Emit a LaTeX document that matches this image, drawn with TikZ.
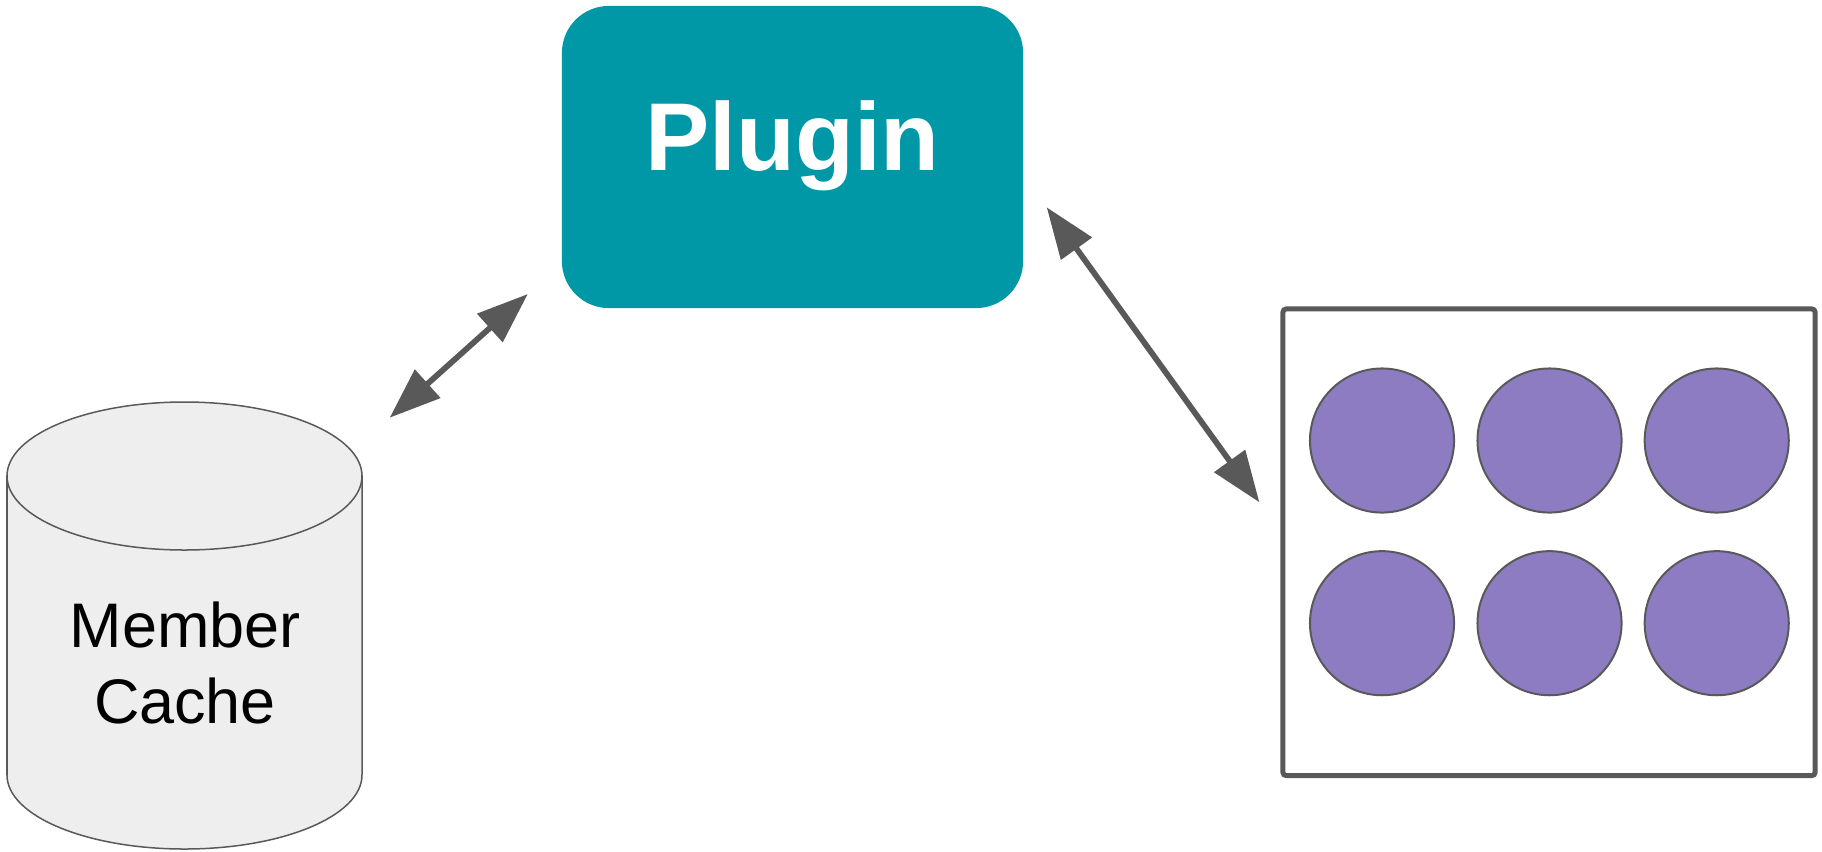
\documentclass[tikz,border=0pt]{standalone}
\usepackage{fontspec}
\setmainfont{Liberation Sans}
\usetikzlibrary{arrows.meta}

\definecolor{pluginteal}{HTML}{0097A7}
\definecolor{podpurple}{HTML}{8E7CC3}
\definecolor{edgegray}{HTML}{595959}
\definecolor{cachegray}{HTML}{EEEEEE}

\tikzset{
    link/.style={edgegray, line width=0.058cm, {Triangle[length=0.51cm, width=0.37cm]}-{Triangle[length=0.51cm, width=0.37cm]}},
    member/.style={circle, draw=edgegray, line width=0.02cm, fill=podpurple, minimum size=1.44cm, inner sep=0pt},
    cyl/.style={fill=cachegray, draw=edgegray, line width=0.015cm},
}

\begin{document}
\begin{tikzpicture}[x=0.01cm, y=-0.01cm]
    \useasboundingbox (0, 0) rectangle (1822, 851);

    \node[fill=pluginteal, rounded corners=0.47cm, minimum width=4.61cm, minimum height=3.02cm, inner sep=0pt] (plugin) at (792.5, 157) {};
    \node[white, font=\fontsize{27.4}{33}\selectfont\bfseries, anchor=base, inner sep=0pt] (pluginlabel) at (792.5, 170) {Plugin};

    % cache cylinder
    \filldraw[cyl] (7, 476) -- (7, 775) arc[start angle=180, end angle=0, x radius=177.5, y radius=74] -- (362, 476) -- cycle;
    \filldraw[cyl] (184.5, 476) ellipse[x radius=177.5, y radius=74];
    \node[font=\fontsize{17.9}{21.5}\selectfont, align=center, anchor=base, inner sep=0pt] (cache) at (185, 723.3) {Member\\Cache};

    \node[draw=edgegray, line width=0.05cm, rounded corners=1pt, minimum width=5.32cm, minimum height=4.665cm] (pod) at (1549, 542.25) {};
    \node[member] (m1) at (1382, 440.5) {};
    \node[member] (m2) at (1549.5, 440.5) {};
    \node[member] (m3) at (1716.7, 440.5) {};
    \node[member] (m4) at (1382, 623.2) {};
    \node[member] (m5) at (1549.5, 623.2) {};
    \node[member] (m6) at (1716.7, 623.2) {};

    \coordinate (cachetip) at (389.7, 417.7);
    \coordinate (pluginleft) at (527.8, 294);
    \coordinate (pluginright) at (1046.7, 207.3);
    \coordinate (podtip) at (1259.4, 502.3);

    \draw[link] (cachetip) -- (pluginleft);
    \draw[link] (pluginright) -- (podtip);
\end{tikzpicture}
\end{document}
